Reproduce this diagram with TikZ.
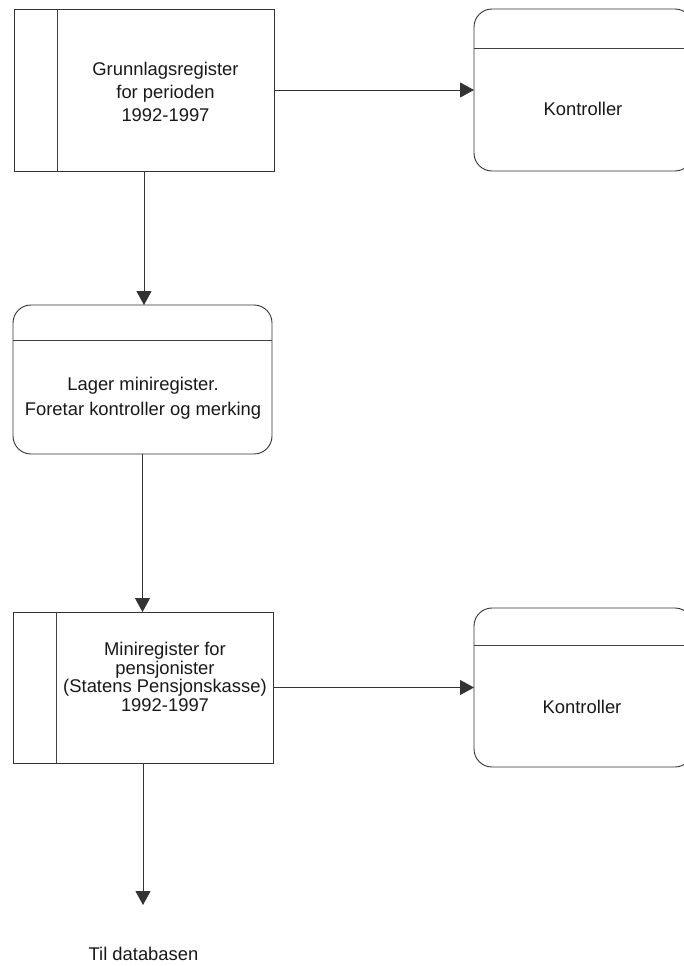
\documentclass[tikz,border=0pt]{standalone}
\usepackage{fontspec}
\setmainfont{Liberation Sans}
\usetikzlibrary{arrows.meta}
\begin{document}
\begin{tikzpicture}[x=1pt,y=-1pt,
  box/.style={draw=black!80, line width=0.9pt, rectangle, inner sep=0pt, outer sep=0pt},
  procbox/.style={box, rounded corners=18pt},
  divider/.style={draw=black!75, line width=0.9pt},
  lbl/.style={align=center, text=black!90, inner sep=0pt},
  flow/.style={draw=black!80, line width=0.9pt, -{Triangle[length=14pt,width=15pt]}}
]
\useasboundingbox (0,0) rectangle (684,966);
\fill[white] (0,0) rectangle (684,966);

% register (data store) boxes with a side bar
\node[box, minimum width=260pt, minimum height=162pt] (grunn) at (144,90) {};
\draw[divider] ([xshift=43pt]grunn.north west) -- ([xshift=43pt]grunn.south west);
\node[lbl, font=\fontsize{18.4}{23}\selectfont] (grunntxt) at (165.5,92)
  {Grunnlagsregister\\for perioden\\1992-1997};

\node[box, minimum width=260pt, minimum height=151pt] (mini) at (143,687.5) {};
\draw[divider] ([xshift=43pt]mini.north west) -- ([xshift=43pt]mini.south west);
\node[lbl, font=\fontsize{18.4}{18.5}\selectfont] (minitxt) at (165,677)
  {Miniregister for\\pensjonister\\(Statens Pensjonskasse)\\1992-1997};

% process boxes with a header strip
\node[procbox, minimum width=259pt, minimum height=149pt] (lager) at (142.5,379.5) {};
\draw[divider] ([yshift=-35pt]lager.north west) -- ([yshift=-35pt]lager.north east);
\node[lbl, font=\fontsize{18.4}{25}\selectfont] (lagertxt) at (143,398.5)
  {Lager miniregister.\\Foretar kontroller og merking};

\node[procbox, minimum width=219pt, minimum height=162pt] (kontr1) at (583.5,90) {};
\draw[divider] ([yshift=-39pt]kontr1.north west) -- ([yshift=-39pt]kontr1.north east);
\node[lbl, font=\fontsize{18.4}{23}\selectfont] (kontr1txt) at (583,109) {Kontroller};

\node[procbox, minimum width=219pt, minimum height=159pt] (kontr2) at (583.5,687.5) {};
\draw[divider] ([yshift=-37pt]kontr2.north west) -- ([yshift=-37pt]kontr2.north east);
\node[lbl, font=\fontsize{18.4}{23}\selectfont] (kontr2txt) at (582,707) {Kontroller};

% flows
\draw[flow] (grunn.east) -- (kontr1.west);
\draw[flow] (grunn.south) -- (grunn.south |- lager.north);
\draw[flow] (lager.south) -- (lager.south |- mini.north);
\draw[flow] (mini.east) -- (kontr2.west);
\coordinate (dbend) at (143,905);
\draw[flow] (mini.south) -- (dbend);
\node[lbl, font=\fontsize{18.4}{23}\selectfont] (db) at (143.5,954) {Til databasen};
\end{tikzpicture}
\end{document}
